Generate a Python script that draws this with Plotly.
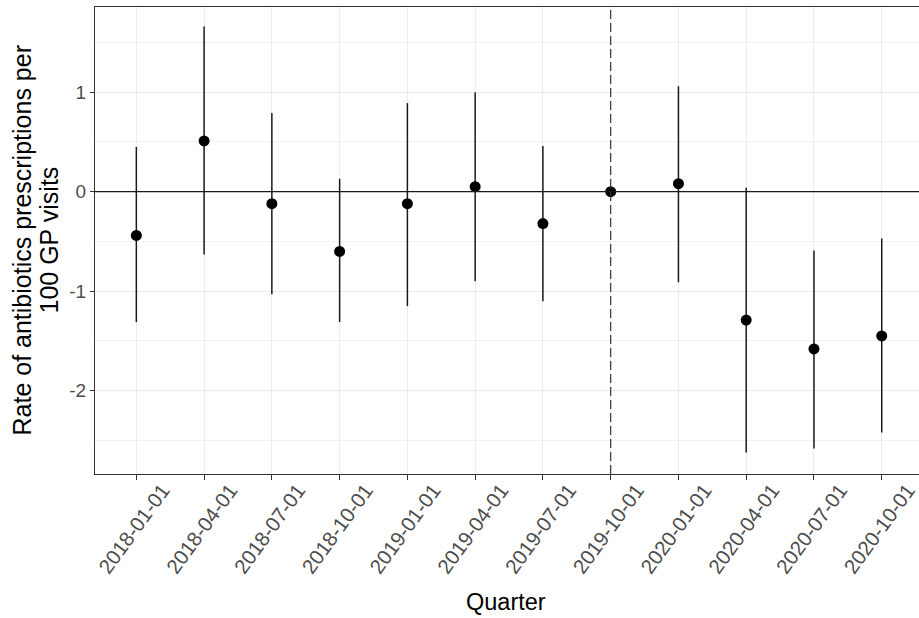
import plotly.graph_objects as go

quarters = ["2018-01-01", "2018-04-01", "2018-07-01", "2018-10-01",
            "2019-01-01", "2019-04-01", "2019-07-01", "2019-10-01",
            "2020-01-01", "2020-04-01", "2020-07-01", "2020-10-01"]
estimate = [-0.44, 0.51, -0.12, -0.60, -0.12, 0.05, -0.32, 0.00, 0.08, -1.29, -1.58, -1.45]
upper = [0.45, 1.66, 0.79, 0.13, 0.89, 1.00, 0.46, 0.00, 1.06, 0.04, -0.59, -0.47]
lower = [-1.31, -0.63, -1.03, -1.31, -1.15, -0.90, -1.10, 0.00, -0.91, -2.62, -2.58, -2.42]
reference_quarter = "2019-10-01"
y_title_lines = ["Rate of antibiotics prescriptions per", "100 GP visits"]
x_title = "Quarter"

err_plus = [u - e for u, e in zip(upper, estimate)]
err_minus = [e - l for e, l in zip(estimate, lower)]

FONT = "Liberation Sans, Arial, sans-serif"
W, H = 919, 618
ML, MR, MT, MB = 95, 0, 7, 144
PW = W - ML - MR
PH = H - MT - MB

fig = go.Figure()
fig.add_trace(go.Scatter(
    x=quarters, y=estimate, mode="markers",
    marker=dict(color="black", size=11),
    error_y=dict(type="data", symmetric=False, array=err_plus, arrayminus=err_minus,
                 color="#1a1a1a", thickness=1.5, width=0),
    showlegend=False,
))

fig.add_hline(y=0, line=dict(color="#1a1a1a", width=1.3))
fig.add_vline(x=quarters.index(reference_quarter), line=dict(color="#333333", width=1.2, dash="9px,4px"))

annotations = [
    dict(text=y_title_lines[0], xref="paper", yref="paper", x=(21 - ML) / PW, y=0.5,
         xanchor="center", yanchor="middle", textangle=-90, showarrow=False,
         font=dict(size=25, color="black", family=FONT)),
    dict(text=y_title_lines[1], xref="paper", yref="paper", x=(48 - ML) / PW, y=0.5,
         xanchor="center", yanchor="middle", textangle=-90, showarrow=False,
         font=dict(size=25, color="black", family=FONT)),
    dict(text=x_title, xref="paper", yref="paper", x=(506 - ML) / PW, y=-(602 - (MT + PH)) / PH,
         xanchor="center", yanchor="middle", showarrow=False,
         font=dict(size=23.5, color="black", family=FONT)),
]

fig.update_layout(
    width=W, height=H, autosize=False,
    margin=dict(l=ML, r=MR, t=MT, b=MB),
    paper_bgcolor="white", plot_bgcolor="white",
    font=dict(family=FONT, color="black"),
    xaxis=dict(
        type="category", range=[-0.61, 11.55],
        showgrid=True, gridcolor="#EBEBEB", gridwidth=1,
        showline=True, linecolor="#333333", linewidth=1.2, mirror=True,
        ticks="outside", ticklen=5, tickcolor="#333333",
        tickangle=-54, tickfont=dict(size=20.5, color="#4D4D4D", family=FONT),
        ticklabelshift=26, ticklabelstandoff=-10,
        zeroline=False,
    ),
    yaxis=dict(
        range=[-2.837, 1.856],
        tickvals=[-2, -1, 0, 1], ticktext=["-2", "-1", "0", "1"],
        showgrid=True, gridcolor="#EBEBEB", gridwidth=1,
        minor=dict(tickvals=[-2.5, -1.5, -0.5, 0.5, 1.5], showgrid=True,
                   gridcolor="#F0F0F0", gridwidth=0.8, ticks=""),
        showline=True, linecolor="#333333", linewidth=1.2,
        ticks="outside", ticklen=4, tickcolor="#333333",
        tickfont=dict(size=19, color="#4D4D4D", family=FONT),
        zeroline=False,
    ),
    annotations=annotations,
)

post = (
    "document.documentElement.style.overflow='hidden';"
    "document.body.style.margin='0';"
    "document.body.style.overflow='hidden';"
)

fig.write_html(
    "out.html",
    config={"displayModeBar": False, "responsive": False},
    post_script=post,
)
